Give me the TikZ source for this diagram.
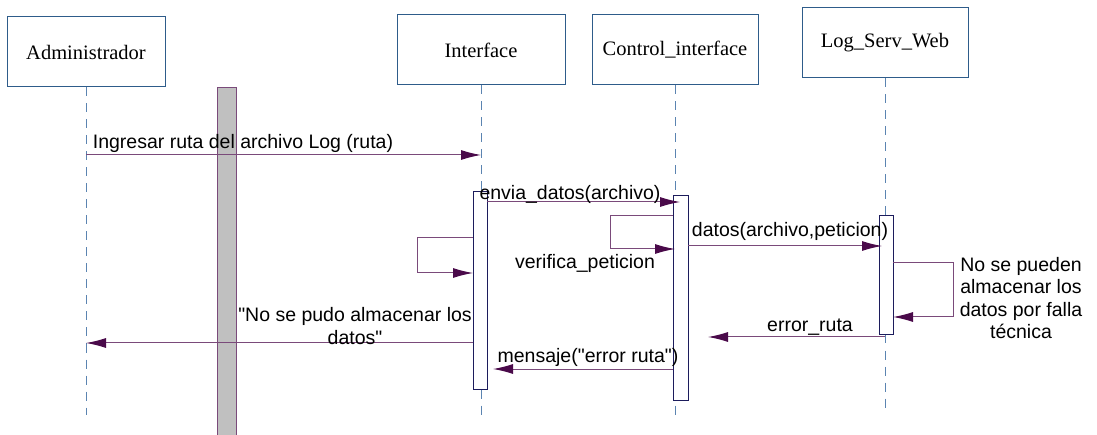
\documentclass[tikz,border=0pt]{standalone}
\usepackage{fontspec}
\setmainfont{Liberation Serif}
\newfontfamily\msgfont{Liberation Sans}
\usetikzlibrary{arrows.meta}

\definecolor{objblue}{HTML}{2E5C8A}
\definecolor{lifeblue}{HTML}{5B84B1}
\definecolor{msgline}{HTML}{7A4A7A}
\definecolor{msgtip}{HTML}{4A0A4A}
\definecolor{actnavy}{HTML}{1C1C5C}
\definecolor{barg}{HTML}{C0C0C0}

\tikzset{
  obj/.style={draw=objblue, line width=1pt, minimum height=70pt, font=\fontsize{20.5}{24}\selectfont},
  life/.style={draw=lifeblue, line width=1pt, dash pattern=on 9pt off 7pt},
  act/.style={draw=actnavy, fill=white, line width=1pt, minimum width=14pt, inner sep=0pt},
  bar/.style={draw=msgline, fill=barg, line width=0.8pt},
  msg/.style={draw=msgline, line width=1pt, -{Latex[length=20pt,width=10pt,color=msgtip]}},
  lbl/.style={font=\msgfont\fontsize{19.5}{22.5}\selectfont, inner sep=0pt, align=center}
}

\begin{document}
\begin{tikzpicture}[x=1pt,y=-1pt]
\useasboundingbox (0,0) rectangle (1097,435);

\node[obj, minimum width=158pt] (adm) at (86,52) {Administrador};
\node[obj, minimum width=168pt] (intf) at (481,50) {Interface};
\node[obj, minimum width=166pt] (ctrl) at (675,50) {Control\_interface};
\node[obj, minimum width=166pt] (logw) at (885,43) {Log\_Serv\_Web};

\coordinate (admE) at (86,415);
\coordinate (intfE) at (481,415);
\coordinate (ctrlE) at (675,415);
\coordinate (logwE) at (885,410);

\draw[life] (adm.south) -- (admE);
\draw[life] (intf.south) -- (intfE);
\draw[life] (ctrl.south) -- (ctrlE);
\draw[life] (logw.south) -- (logwE);

\draw[bar] (217,87) rectangle (236,440);

\node[act, minimum height=197pt] (actI) at (480,290.5) {};
\node[act, minimum width=15pt, minimum height=204pt] (actC) at (680.5,298) {};
\node[act, minimum height=119pt] (actL) at (886,275.5) {};

% mensajes
\coordinate (m1a) at (86,155);
\coordinate (m1b) at (481,155);
\coordinate (m2a) at (487,202);
\coordinate (m2b) at (680,202);
\coordinate (m3a) at (473,238);
\coordinate (m3b) at (473,273);
\coordinate (m4a) at (673,216);
\coordinate (m4b) at (675,249);
\coordinate (m5a) at (688,246);
\coordinate (m5b) at (882,246);
\coordinate (m6a) at (893,263);
\coordinate (m6b) at (893,317);
\coordinate (m7a) at (885,337);
\coordinate (m7b) at (708,337);
\coordinate (m8a) at (473,343);
\coordinate (m8b) at (86,343);
\coordinate (m9a) at (673,369);
\coordinate (m9b) at (493,369);

\draw[msg] (m1a) -- (m1b);
\draw[msg] (m2a) -- (m2b);
\draw[msg] (m3a) -- ++(-56,0) -- ++(0,35) -- (m3b);
\draw[msg] (m4a) -- ++(-63,0) -- ++(0,33) -- (m4b);
\draw[msg] (m5a) -- (m5b);
\draw[msg] (m6a) -- ++(60,0) -- ++(0,54) -- (m6b);
\draw[msg] (m7a) -- (m7b);
\draw[msg] (m8a) -- (m8b);
\draw[msg] (m9a) -- (m9b);

\node[lbl] (l1) at (243,143) {Ingresar ruta del archivo Log (ruta)};
\node[lbl] (l2) at (570,194) {envia\_datos(archivo)};
\node[lbl] (l4) at (585,263) {verifica\_peticion};
\node[lbl] (l5) at (790,231) {datos(archivo,peticion)};
\node[lbl] (l6) at (1021,298) {No se pueden\\almacenar los\\datos por falla\\técnica};
\node[lbl] (l7) at (810,327) {error\_ruta};
\node[lbl] (l8) at (355,326) {"No se pudo almacenar los\\datos"};
\node[lbl] (l9) at (588,357) {mensaje("error ruta")};

\end{tikzpicture}
\end{document}
